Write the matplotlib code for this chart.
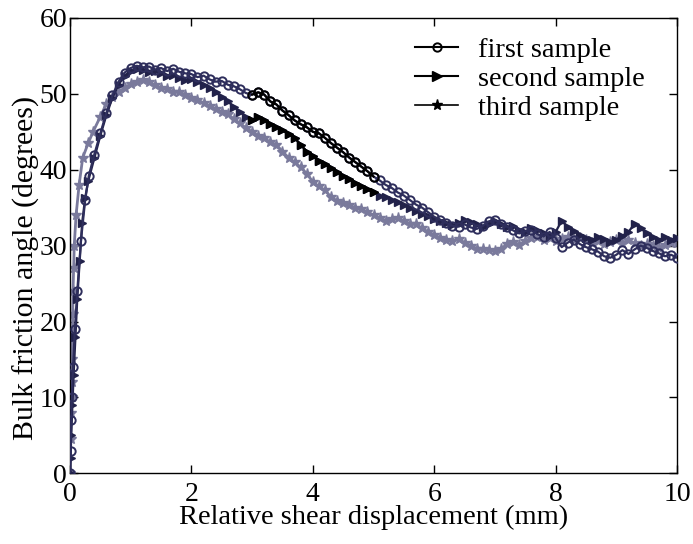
import numpy as np
import matplotlib
matplotlib.use("Agg")
import matplotlib.pyplot as plt
from matplotlib.lines import Line2D

# ---- data ----
x1 = [0, 0.01, 0.02, 0.03, 0.05, 0.08, 0.12, 0.18, 0.25, 0.31, 0.4, 0.5, 0.6, 0.7, 0.8, 0.9,
      1.0, 1.1, 1.2, 1.3, 1.4, 1.5, 1.6, 1.7, 1.8, 1.9, 2.0, 2.1, 2.2, 2.3, 2.4, 2.5, 2.6, 2.7,
      2.8, 2.9, 3.0, 3.1, 3.2, 3.3, 3.4, 3.5, 3.6, 3.7, 3.8, 3.9, 4.0, 4.1, 4.2, 4.3, 4.4, 4.5,
      4.6, 4.7, 4.8, 4.9, 5.0, 5.1, 5.2, 5.3, 5.4, 5.5, 5.6, 5.7, 5.8, 5.9, 6.0, 6.1, 6.2, 6.3,
      6.4, 6.5, 6.6, 6.7, 6.8, 6.9, 7.0, 7.1, 7.2, 7.3, 7.4, 7.5, 7.6, 7.7, 7.8, 7.9, 8.0, 8.1,
      8.2, 8.3, 8.4, 8.5, 8.6, 8.7, 8.8, 8.9, 9.0, 9.1, 9.2, 9.3, 9.4, 9.5, 9.6, 9.7, 9.8, 9.9, 10.0]
y1 = [0, 3, 7, 10, 14, 19, 24, 30.6, 36, 39.2, 42, 44.8, 47.5, 49.8, 51.6, 52.8,
      53.4, 53.7, 53.5, 53.6, 53.2, 53.4, 53.0, 53.3, 52.9, 52.7, 52.6, 52.2, 52.4, 51.9, 51.6, 51.7, 51.2, 51.0,
      50.6, 50.1, 49.9, 50.2, 49.9, 49.0, 48.6, 47.8, 47.2, 46.5, 46.0, 45.6, 45.0, 44.8, 44.2, 43.5, 42.9, 42.3,
      41.6, 41.0, 40.4, 39.8, 39.1, 38.6, 38.0, 37.6, 37.0, 36.6, 36.0, 35.4, 35.0, 34.4, 33.8, 33.4, 33.0, 32.6,
      32.5, 32.8, 32.4, 32.2, 32.6, 33.2, 33.4, 32.8, 32.5, 32.0, 31.6, 31.9, 32.0, 31.5, 31.2, 31.8, 31.0, 29.8,
      30.4, 30.8, 30.2, 29.8, 29.5, 29.2, 28.6, 28.4, 28.8, 29.4, 28.9, 29.5, 30.0, 29.7, 29.3, 29.0, 28.6, 28.8, 28.4]

x2 = [0, 0.01, 0.02, 0.04, 0.06, 0.09, 0.12, 0.16, 0.2, 0.25, 0.3, 0.4, 0.5, 0.6, 0.7, 0.8, 0.9,
      1.0, 1.1, 1.2, 1.3, 1.4, 1.5, 1.6, 1.7, 1.8, 1.9, 2.0, 2.1, 2.2, 2.3, 2.4, 2.5, 2.6, 2.7,
      2.8, 2.9, 3.0, 3.1, 3.2, 3.3, 3.4, 3.5, 3.6, 3.7, 3.8, 3.9, 4.0, 4.1, 4.2, 4.3, 4.4, 4.5,
      4.6, 4.7, 4.8, 4.9, 5.0, 5.1, 5.2, 5.3, 5.4, 5.5, 5.6, 5.7, 5.8, 5.9, 6.0, 6.1, 6.2, 6.3,
      6.4, 6.5, 6.6, 6.7, 6.8, 6.9, 7.0, 7.1, 7.2, 7.3, 7.4, 7.5, 7.6, 7.7, 7.8, 7.9, 8.0, 8.1,
      8.2, 8.3, 8.4, 8.5, 8.6, 8.7, 8.8, 8.9, 9.0, 9.1, 9.2, 9.3, 9.4, 9.5, 9.6, 9.7, 9.8, 9.9, 10.0]
y2 = [0, 2, 5, 9, 13, 18, 23, 28, 33, 36.3, 38.5, 41.5, 44.5, 47.2, 49.5, 51.2, 52.4,
      53.0, 53.3, 53.1, 52.9, 53.0, 52.7, 52.4, 52.5, 52.1, 51.8, 51.9, 51.5, 51.2, 50.8, 50.2, 49.6, 49.0, 48.3,
      47.6, 47.0, 46.6, 46.9, 46.5, 46.0, 45.6, 45.2, 44.7, 44.2, 43.3, 42.4, 41.8, 41.2, 40.7, 40.2, 39.7, 39.2,
      38.8, 38.3, 37.8, 37.4, 37.0, 36.6, 36.4, 36.0, 35.7, 35.3, 34.9, 34.6, 34.2, 33.9, 33.5, 33.2, 33.0, 32.7,
      33.0, 33.4, 33.1, 32.8, 32.5, 32.8, 33.2, 32.9, 32.4, 32.6, 32.1, 31.8, 32.3, 32.0, 31.6, 31.3, 31.8, 33.3,
      32.4, 31.9, 31.4, 31.0, 30.7, 31.2, 30.9, 30.5, 30.8, 31.3, 31.8, 32.9, 32.3, 31.6, 31.1, 30.7, 31.2, 30.8, 31.0]

x3 = [0, 0.01, 0.02, 0.025, 0.03, 0.035, 0.04, 0.045, 0.05, 0.06, 0.07, 0.1, 0.15, 0.21, 0.3, 0.38,
      0.5, 0.6, 0.7, 0.8, 0.9, 1.0, 1.1, 1.2, 1.3, 1.4, 1.5, 1.6, 1.7, 1.8, 1.9, 2.0, 2.1, 2.2, 2.3,
      2.4, 2.5, 2.6, 2.7, 2.8, 2.9, 3.0, 3.1, 3.2, 3.3, 3.4, 3.5, 3.6, 3.7, 3.8, 3.9, 4.0, 4.1, 4.2,
      4.3, 4.4, 4.5, 4.6, 4.7, 4.8, 4.9, 5.0, 5.1, 5.2, 5.3, 5.4, 5.5, 5.6, 5.7, 5.8, 5.9, 6.0, 6.1,
      6.2, 6.3, 6.4, 6.5, 6.6, 6.7, 6.8, 6.9, 7.0, 7.1, 7.2, 7.3, 7.4, 7.5, 7.6, 7.7, 7.8, 7.9, 8.0,
      8.1, 8.2, 8.3, 8.4, 8.5, 8.6, 8.7, 8.8, 8.9, 9.0, 9.1, 9.2, 9.3, 9.4, 9.5, 9.6, 9.7, 9.8, 9.9, 10.0]
y3 = [0, 4.5, 8, 10, 12, 15, 18, 21, 24, 27, 30, 34, 38, 41.6, 43.5, 45.0,
      47.0, 48.7, 49.6, 50.2, 50.8, 51.3, 51.6, 51.8, 51.5, 51.1, 50.8, 50.6, 50.3, 50.2, 49.9, 49.5, 49.2, 48.8, 48.4,
      48.0, 47.6, 47.3, 46.7, 46.1, 45.5, 45.0, 44.5, 44.2, 43.6, 43.3, 42.4, 41.6, 41.0, 40.3, 39.5, 38.4, 37.8, 37.3,
      36.4, 35.9, 35.6, 35.3, 35.0, 34.8, 34.4, 34.0, 33.6, 33.3, 33.5, 33.7, 33.2, 32.9, 32.8, 32.3, 31.8, 31.4, 31.0,
      30.7, 30.6, 30.9, 30.4, 30.0, 29.6, 29.5, 29.4, 29.3, 29.6, 30.2, 30.5, 30.1, 30.6, 31.0, 31.2, 30.8, 31.0, 30.6,
      30.9, 31.1, 30.8, 31.0, 30.7, 30.3, 30.6, 30.2, 30.5, 30.7, 30.4, 30.7, 30.3, 29.9, 30.2, 30.0, 29.7, 30.1, 30.4, 30.3]

labels = ["first sample", "second sample", "third sample"]
xticks = [0, 2, 4, 6, 8, 10]
yticks = [0, 10, 20, 30, 40, 50, 60]

plt.rcParams['font.family'] = ['Liberation Serif', 'DejaVu Serif']

fig = plt.figure(figsize=(6.93, 5.44), dpi=100)
ax = fig.add_axes([0.101, 0.130, 0.876, 0.837])

c1 = '#2e2e5c'
c2 = '#22224a'
c3 = '#7a7a9c'

x1a, y1a = np.array(x1), np.array(y1)
x2a, y2a = np.array(x2), np.array(y2)
x3a, y3a = np.array(x3), np.array(y3)

ax.plot(x3a, y3a, color=c3, lw=2, marker='*', ms=8, mfc=c3, mec=c3, zorder=2)
ax.plot(x2a, y2a, color=c2, lw=1.6, marker='>', ms=6, mfc=c2, mec=c2, zorder=3)
ax.plot(x1a, y1a, color=c1, lw=1.6, marker='o', ms=6, mfc='none', mec=c1, mew=1.4, zorder=4)

# darker (black) middle stretch as in the scan
m2 = (x2a >= 3.0) & (x2a <= 5.0)
m1 = (x1a >= 3.0) & (x1a <= 5.0)
ax.plot(x2a[m2], y2a[m2], color='black', lw=1.6, marker='>', ms=6, mfc='black', mec='black', zorder=5)
ax.plot(x1a[m1], y1a[m1], color='black', lw=1.6, marker='o', ms=6, mfc='none', mec='black', mew=1.4, zorder=6)

ax.set_xlim(0, 10)
ax.set_ylim(0, 60)
ax.set_xticks(xticks)
ax.set_yticks(yticks)
ax.tick_params(direction='in', length=6, width=1, top=True, right=True, labelsize=20)
ax.tick_params(axis='x', pad=6)
ax.tick_params(axis='y', pad=2)
for s in ax.spines.values():
    s.set_linewidth(1.0)

ax.set_xlabel("Relative shear displacement (mm)", fontsize=20.5, labelpad=-1)
ax.set_ylabel("Bulk friction angle (degrees)", fontsize=21.5)
ax.yaxis.set_label_coords(-0.05, 0.45)

handles = [
    Line2D([], [], color='black', lw=1.5, marker='o', ms=6, mfc='none', mew=1.4),
    Line2D([], [], color='black', lw=1.5, marker='>', ms=7, mfc='black'),
    Line2D([], [], color='black', lw=1.2, marker='*', ms=8, mfc='black'),
]
ax.legend(handles, labels, loc='upper right', bbox_to_anchor=(0.975, 0.995), frameon=False,
          fontsize=20.5, handlelength=1.5, handletextpad=0.7, labelspacing=0.1, borderaxespad=0.2)

fig.savefig("out.png", dpi=100)
